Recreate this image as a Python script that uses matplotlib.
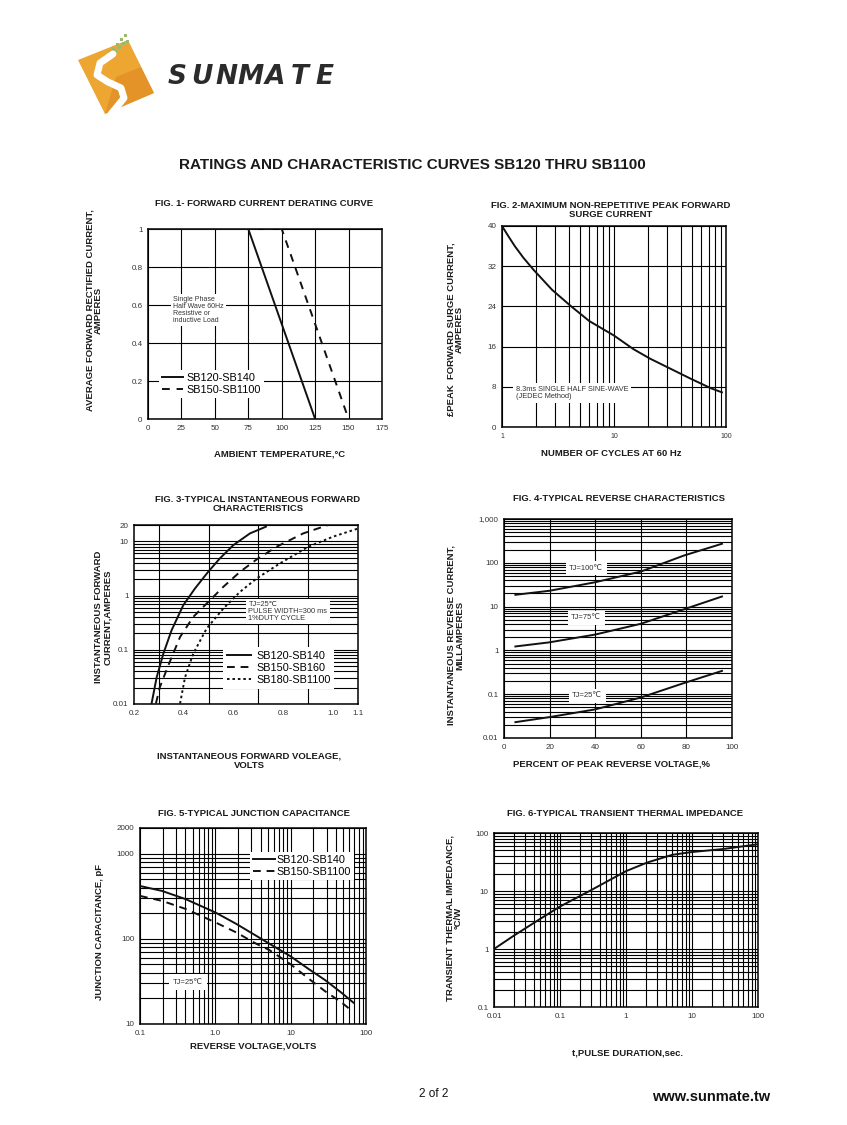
import numpy as np
import matplotlib
matplotlib.use("Agg")
import matplotlib.pyplot as plt
from matplotlib.ticker import FixedLocator, NullFormatter, LogLocator
from matplotlib.patches import Polygon, Rectangle
from matplotlib.lines import Line2D

plt.rcParams['font.family'] = ['Liberation Sans', 'DejaVu Sans']

# ---------------- data ----------------
# Fig 1 derating
f1_temp_a = [0, 75, 125]
f1_cur_a = [1.0, 1.0, 0.0]
f1_temp_b = [0, 100, 150]
f1_cur_b = [1.0, 1.0, 0.0]
f1_labels = ["SB120-SB140", "SB150-SB1100"]

# Fig 2 surge
f2_cycles = [1, 1.13, 1.3, 1.55, 1.91, 2.8, 4.1, 6.0, 10, 14.9, 21.0, 31.9, 48.5, 73.5, 92]
f2_amps = [40, 38.1, 36.0, 33.7, 31.3, 27.3, 24.1, 21.1, 18.2, 15.5, 13.6, 11.6, 9.6, 7.7, 6.9]

# Fig 3 forward characteristics
f3_v1 = [0.271, 0.291, 0.318, 0.351, 0.398, 0.445, 0.498, 0.545, 0.599, 0.666, 0.730]
f3_i1 = [0.0104, 0.031, 0.085, 0.229, 0.664, 1.35, 2.74, 4.84, 8.5, 14.0, 18.6]
f3_v2 = [0.288, 0.304, 0.338, 0.385, 0.438, 0.498, 0.559, 0.626, 0.693, 0.773, 0.880, 0.980]
f3_i2 = [0.0102, 0.0205, 0.0516, 0.172, 0.404, 0.76, 1.45, 2.74, 4.64, 7.94, 14.0, 20.0]
f3_v3 = [0.385, 0.405, 0.438, 0.492, 0.559, 0.626, 0.693, 0.786, 0.900, 1.0, 1.1]
f3_i3 = [0.0102, 0.031, 0.085, 0.247, 0.577, 1.17, 2.07, 3.91, 7.94, 12.2, 17.2]
f3_labels = ["SB120-SB140", "SB150-SB160", "SB180-SB1100"]

# Fig 4 reverse characteristics
f4_pct = [5, 20, 40, 60, 79, 95.6]
f4_100 = [18.6, 23, 36, 63, 147, 272]
f4_75 = [1.23, 1.53, 2.3, 4.05, 8.7, 17]
f4_25 = [0.023, 0.030, 0.045, 0.084, 0.18, 0.34]
f4_labels = ["TJ=100℃", "TJ=75℃", "TJ=25℃"]

# Fig 5 junction capacitance
f5_v1 = [0.1, 0.196, 0.405, 1.0, 1.89, 3.46, 5.19, 10, 17.4, 28.9, 47.8, 68.1]
f5_c1 = [417, 365, 292, 204, 150, 109, 87.9, 62.2, 44.1, 32.6, 23.1, 17.8]
f5_v2 = [0.1, 0.196, 0.405, 1.0, 1.89, 3.46, 5.19, 10, 17.4, 28.9, 47.8, 64]
f5_c2 = [319, 279, 224, 156, 119, 87.9, 74, 50.2, 34.0, 24.1, 17.8, 14.4]
f5_labels = ["SB120-SB140", "SB150-SB1100"]

# Fig 6 transient thermal impedance
f6_t = [0.01, 0.02, 0.05, 0.1, 0.28, 1, 2.1, 5, 10, 30, 100]
f6_z = [1.0, 1.7, 3.3, 5.4, 10, 22, 31, 42, 47, 53, 64]

W, H = 847, 1125
fig = plt.figure(figsize=(W / 100, H / 100), dpi=100)
fig.patch.set_facecolor('white')

BOLD = dict(fontweight='bold', color='#1a1a1a')
TICKC = '#333333'


def add_ax(l, t, r, b):
    return fig.add_axes([l / W, 1 - b / H, (r - l) / W, (b - t) / H])


def ftext(x, y, s, **kw):
    fig.text(x / W, 1 - y / H, s, **kw)


def style(ax):
    for sp in ax.spines.values():
        sp.set_linewidth(1.1)
        sp.set_color('black')
    ax.tick_params(which='both', length=0, labelsize=5.8, labelcolor=TICKC, pad=4)
    ax.set_axisbelow(True)


GRID = dict(color='black', linewidth=0.8)
LW = 1.4
LEGFS = 7.8

# ---------------- Logo ----------------
logo = Polygon([[78 / W, 1 - 60 / H], [128 / W, 1 - 40 / H], [154 / W, 1 - 93 / H], [105 / W, 1 - 114 / H]],
               closed=True, transform=fig.transFigure, facecolor='#EDA632', edgecolor='none')
fig.patches.append(logo)
logo2 = Polygon([[116 / W, 1 - 77 / H], [141 / W, 1 - 67 / H], [154 / W, 1 - 93 / H], [105 / W, 1 - 114 / H]],
                closed=True, transform=fig.transFigure, facecolor='#DC8420', edgecolor='none', alpha=0.55)
fig.patches.append(logo2)
sx = np.array([113, 100, 97, 108, 121, 124, 116, 111])
sy = np.array([54, 63, 75, 82, 88, 98, 108, 114])
fig.lines.append(Line2D(sx / W, 1 - sy / H, transform=fig.transFigure, color='white', lw=5,
                        solid_capstyle='round'))
for (gx, gy) in [(104, 58), (108, 54), (112, 50), (116, 46), (110, 57), (114, 53), (118, 49), (122, 45),
                 (120, 41), (124, 37), (126, 43)]:
    fig.patches.append(Rectangle((gx / W, 1 - gy / H), 3 / W, 3 / H, transform=fig.transFigure,
                                 facecolor='#9DB86A', edgecolor='none'))
for i, ch in enumerate("SUNMATE"):
    ftext(177 + i * 24.5, 77, ch, fontsize=19, fontweight='bold', fontstyle='italic', color='#2b2b2b',
          ha='center', va='center', family=['DejaVu Sans'])

# ---------------- Title ----------------
ftext(412, 165, "RATINGS AND CHARACTERISTIC CURVES SB120 THRU SB1100", fontsize=11, ha='center', va='center', **BOLD)

# ---------------- Fig 1 ----------------
ax1 = add_ax(148, 229, 382, 419)
style(ax1)
ax1.set_xlim(0, 175)
ax1.set_ylim(0, 1)
ax1.xaxis.set_major_locator(FixedLocator([0, 25, 50, 75, 100, 125, 150, 175]))
ax1.yaxis.set_major_locator(FixedLocator([0, 0.2, 0.4, 0.6, 0.8, 1.0]))
ax1.set_xticklabels(["0", "25", "50", "75", "100", "125", "150", "175"])
ax1.set_yticklabels(["0", "0.2", "0.4", "0.6", "0.8", "1"])
ax1.grid(True, **GRID)
l1a, = ax1.plot(f1_temp_a, f1_cur_a, color='#111', lw=LW, zorder=4)
l1b, = ax1.plot(f1_temp_b, f1_cur_b, color='#111', lw=LW, dashes=(4, 3.5), zorder=4)
ax1.text(19, 0.575, "Single Phase\nHalf Wave 60Hz\nResistive or\ninductive Load", fontsize=5, color='#333',
         ha='left', va='center', linespacing=1.0, zorder=3,
         bbox=dict(facecolor='white', edgecolor='none', pad=1.5))
ax1.legend([l1a, l1b], f1_labels, loc='upper left', bbox_to_anchor=(0.045, 0.26), fontsize=LEGFS,
           frameon=True, fancybox=False, edgecolor='none', framealpha=1, handlelength=2.0,
           handletextpad=0.3, borderpad=0.3, labelspacing=0.2, borderaxespad=0)
ftext(264, 204, "FIG. 1- FORWARD CURRENT DERATING CURVE", fontsize=6.8, ha='center', va='center', **BOLD)
ftext(280, 454, "AMBIENT TEMPERATURE,°C", fontsize=6.8, ha='center', va='center', **BOLD)
ftext(94, 310, "AVERAGE FORWARD RECTIFIED CURRENT,\nAMPERES", fontsize=6.8, ha='center', va='center',
      rotation=90, multialignment='center', linespacing=1.0, **BOLD)

# ---------------- Fig 2 ----------------
ax2 = add_ax(502, 226, 726, 427)
style(ax2)
ax2.set_xscale('log')
ax2.set_xlim(1, 100)
ax2.set_ylim(0, 40)
ax2.xaxis.set_major_locator(FixedLocator([1, 10, 100]))
ax2.set_xticklabels(["1", "10", "100"], fontsize=5)
ax2.xaxis.set_minor_locator(LogLocator(base=10, subs=range(2, 10)))
ax2.xaxis.set_minor_formatter(NullFormatter())
ax2.yaxis.set_major_locator(FixedLocator([0, 8, 16, 24, 32, 40]))
ax2.set_yticklabels(["0", "8", "16", "24", "32", "40"])
ax2.grid(True, which='both', **GRID)
ax2.plot(f2_cycles, f2_amps, color='#111', lw=LW, zorder=4)
ax2.text(1.33, 6.8, "8.3ms SINGLE HALF SINE-WAVE\n(JEDEC Method)", fontsize=5.3, color='#333', ha='left',
         va='center', linespacing=1.1, zorder=3, bbox=dict(facecolor='white', edgecolor='none', pad=2))
ftext(611, 210, "FIG. 2-MAXIMUM NON-REPETITIVE PEAK FORWARD\nSURGE CURRENT", fontsize=6.8, ha='center',
      va='center', linespacing=1.0, **BOLD)
ftext(611, 453, "NUMBER OF CYCLES AT 60 Hz", fontsize=6.8, ha='center', va='center', **BOLD)
ftext(455, 329, "£PEAK  FORWARD SURGE CURRENT,\nAMPERES", fontsize=6.8, ha='center', va='center',
      rotation=90, multialignment='center', linespacing=1.0, **BOLD)

# ---------------- Fig 3 ----------------
ax3 = add_ax(134, 525, 358, 704)
style(ax3)
ax3.set_yscale('log')
ax3.set_xlim(0.2, 1.1)
ax3.set_ylim(0.01, 20)
ax3.xaxis.set_major_locator(FixedLocator([0.2, 0.4, 0.6, 0.8, 1.0, 1.1]))
ax3.set_xticklabels(["0.2", "0.4", "0.6", "0.8", "1.0", "1.1"])
ax3.xaxis.set_minor_locator(FixedLocator([0.3, 0.4, 0.5, 0.6, 0.7, 0.8, 0.9, 1.0]))
ax3.yaxis.set_major_locator(FixedLocator([0.01, 0.1, 1, 10, 20]))
ax3.set_yticklabels(["0.01", "0.1", "1", "10", "20"])
ax3.yaxis.set_minor_locator(LogLocator(base=10, subs=range(2, 10)))
ax3.yaxis.set_minor_formatter(NullFormatter())
ax3.grid(True, which='both', axis='y', **GRID)
ax3.grid(True, which='minor', axis='x', **GRID)
l3a, = ax3.plot(f3_v1, f3_i1, color='#111', lw=LW, zorder=4)
l3b, = ax3.plot(f3_v2, f3_i2, color='#111', lw=LW, dashes=(4, 3), zorder=4)
l3c, = ax3.plot(f3_v3, f3_i3, color='#111', lw=LW, dashes=(1.3, 1.5), zorder=4)
ax3.text(0.66, 0.5, "TJ=25℃\nPULSE WIDTH=300 ms\n1%DUTY CYCLE", fontsize=5.3, color='#333', ha='left',
         va='center', linespacing=1.0, zorder=3, bbox=dict(facecolor='white', edgecolor='none', pad=1.5))
ax3.legend([l3a, l3b, l3c], f3_labels, loc='upper left', bbox_to_anchor=(0.397, 0.318), fontsize=LEGFS,
           frameon=True, fancybox=False, edgecolor='none', framealpha=1, handlelength=2.2,
           handletextpad=0.5, borderpad=0.35, labelspacing=0.2, borderaxespad=0)
ftext(258, 504, "FIG. 3-TYPICAL INSTANTANEOUS FORWARD\nCHARACTERISTICS", fontsize=6.8, ha='center',
      va='center', linespacing=1.0, **BOLD)
ftext(249, 761, "INSTANTANEOUS FORWARD VOLEAGE,\nVOLTS", fontsize=6.8, ha='center', va='center',
      linespacing=1.0, **BOLD)
ftext(103, 617, "INSTANTANEOUS FORWARD\nCURRENT,AMPERES", fontsize=6.8, ha='center', va='center',
      rotation=90, multialignment='center', linespacing=1.0, **BOLD)

# ---------------- Fig 4 ----------------
ax4 = add_ax(504, 519, 732, 738)
style(ax4)
ax4.set_yscale('log')
ax4.set_xlim(0, 100)
ax4.set_ylim(0.01, 1000)
ax4.xaxis.set_major_locator(FixedLocator([0, 20, 40, 60, 80, 100]))
ax4.set_xticklabels(["0", "20", "40", "60", "80", "100"])
ax4.yaxis.set_major_locator(FixedLocator([0.01, 0.1, 1, 10, 100, 1000]))
ax4.set_yticklabels(["0.01", "0.1", "1", "10", "100", "1,000"])
ax4.yaxis.set_minor_locator(LogLocator(base=10, subs=range(2, 10)))
ax4.yaxis.set_minor_formatter(NullFormatter())
ax4.grid(True, which='both', axis='y', **GRID)
ax4.grid(True, which='major', axis='x', **GRID)
ax4.plot(f4_pct, f4_100, color='#111', lw=LW, zorder=4)
ax4.plot(f4_pct, f4_75, color='#111', lw=LW, zorder=4)
ax4.plot(f4_pct, f4_25, color='#111', lw=LW, zorder=4)
for (tx, ty), lab in zip([(36, 76), (36, 5.5), (36.5, 0.091)], f4_labels):
    ax4.text(tx, ty, lab, fontsize=5.5, color='#333', ha='center', va='center', zorder=3,
             bbox=dict(facecolor='white', edgecolor='none', pad=2.5))
ftext(619, 499, "FIG. 4-TYPICAL REVERSE CHARACTERISTICS", fontsize=6.8, ha='center', va='center', **BOLD)
ftext(611, 764, "PERCENT OF PEAK REVERSE VOLTAGE,%", fontsize=6.8, ha='center', va='center', **BOLD)
ftext(455, 635, "INSTANTANEOUS REVERSE CURRENT,\nMILLAMPERES", fontsize=6.8, ha='center', va='center',
      rotation=90, multialignment='center', linespacing=1.0, **BOLD)

# ---------------- Fig 5 ----------------
ax5 = add_ax(140, 828, 366, 1024)
style(ax5)
ax5.set_xscale('log')
ax5.set_yscale('log')
ax5.set_xlim(0.1, 100)
ax5.set_ylim(10, 2000)
ax5.xaxis.set_major_locator(FixedLocator([0.1, 1, 10, 100]))
ax5.set_xticklabels(["0.1", "1.0", "10", "100"])
ax5.yaxis.set_major_locator(FixedLocator([10, 100, 1000, 2000]))
ax5.set_yticklabels(["10", "100", "1000", "2000"])
for a in (ax5.xaxis, ax5.yaxis):
    a.set_minor_locator(LogLocator(base=10, subs=range(2, 10)))
    a.set_minor_formatter(NullFormatter())
ax5.grid(True, which='both', **GRID)
l5a, = ax5.plot(f5_v1, f5_c1, color='#111', lw=LW, zorder=4)
l5b, = ax5.plot(f5_v2, f5_c2, color='#111', lw=LW, dashes=(4, 3), zorder=4)
ax5.legend([l5a, l5b], f5_labels, loc='upper left', bbox_to_anchor=(0.487, 0.88), fontsize=LEGFS,
           frameon=True, fancybox=False, edgecolor='none', framealpha=1, handlelength=2.0,
           handletextpad=0.1, borderpad=0.3, labelspacing=0.2, borderaxespad=0)
ax5.text(0.43, 31, "TJ=25℃", fontsize=5.5, color='#333', ha='center', va='center', zorder=3,
         bbox=dict(facecolor='white', edgecolor='none', pad=3))
ftext(254, 813, "FIG. 5-TYPICAL JUNCTION CAPACITANCE", fontsize=6.8, ha='center', va='center', **BOLD)
ftext(253, 1046, "REVERSE VOLTAGE,VOLTS", fontsize=6.8, ha='center', va='center', **BOLD)
ftext(99, 932, "JUNCTION CAPACITANCE, pF", fontsize=6.8, ha='center', va='center', rotation=90, **BOLD)

# ---------------- Fig 6 ----------------
ax6 = add_ax(494, 833, 758, 1007)
style(ax6)
ax6.set_xscale('log')
ax6.set_yscale('log')
ax6.set_xlim(0.01, 100)
ax6.set_ylim(0.1, 100)
ax6.xaxis.set_major_locator(FixedLocator([0.01, 0.1, 1, 10, 100]))
ax6.set_xticklabels(["0.01", "0.1", "1", "10", "100"])
ax6.yaxis.set_major_locator(FixedLocator([0.1, 1, 10, 100]))
ax6.set_yticklabels(["0.1", "1", "10", "100"])
for a in (ax6.xaxis, ax6.yaxis):
    a.set_minor_locator(LogLocator(base=10, subs=range(2, 10)))
    a.set_minor_formatter(NullFormatter())
ax6.grid(True, which='both', **GRID)
ax6.plot(f6_t, f6_z, color='#111', lw=LW, zorder=4)
ftext(625, 814, "FIG. 6-TYPICAL TRANSIENT THERMAL IMPEDANCE", fontsize=6.8, ha='center', va='center', **BOLD)
ftext(627, 1053, "t,PULSE DURATION,sec.", fontsize=6.8, ha='center', va='center', **BOLD)
ftext(454, 918, "TRANSIENT THERMAL IMPEDANCE,\n°C/W", fontsize=6.8, ha='center', va='center',
      rotation=90, multialignment='center', linespacing=1.0, **BOLD)

# ---------------- Footer ----------------
ftext(434, 1094, "2 of 2", fontsize=8.5, ha='center', va='center', color='#111')
ftext(711, 1097, "www.sunmate.tw", fontsize=10.5, ha='center', va='center', fontweight='bold', color='#111')

fig.savefig("out.png", dpi=100)
